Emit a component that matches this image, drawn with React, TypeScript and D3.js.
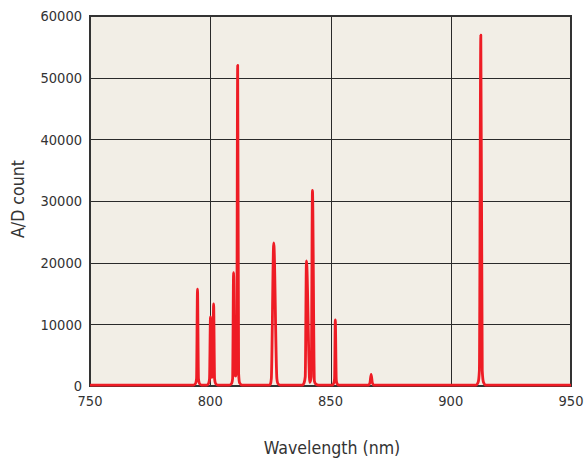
import React from "react";
import * as d3 from "d3";

const wavelengths = [
  750, 793.0, 793.9, 794.3, 794.7, 795.1, 795.5, 796.4,
  798.5, 799.3, 799.7, 800.1, 800.6, 801.0, 801.4, 801.8, 802.2, 803.1,
  808.0, 808.9, 809.3, 809.7, 810.2, 810.7, 811.0, 811.4, 811.8, 812.2, 813.2,
  824.6, 825.0, 825.4, 826.4, 827.7, 828.1, 829.0,
  838.3, 839.0, 839.5, 840.0, 841.4, 842.0, 842.5, 843.3, 843.9, 845.0,
  850.8, 851.4, 851.7, 852.0, 852.4, 852.7, 853.4,
  865.8, 866.4, 866.9, 867.4, 868.0,
  910.5, 911.4, 911.9, 912.5, 913.1, 913.6, 914.5,
  950,
];

const counts = [
  150, 150, 400, 1200, 15700, 1200, 400, 150,
  150, 400, 1200, 11200, 1400, 1600, 13300, 1200, 400, 150,
  150, 400, 1200, 18400, 1800, 1600, 3000, 52000, 2000, 500, 150,
  150, 300, 1200, 23200, 1200, 400, 150,
  150, 500, 1500, 20300, 600, 1500, 31700, 800, 300, 150,
  150, 500, 1200, 10700, 1000, 400, 150,
  150, 500, 1900, 500, 150,
  150, 600, 2500, 56900, 2500, 600, 150,
  150,
];

const xTicks = [750, 800, 850, 900, 950];
const yTicks = [0, 10000, 20000, 30000, 40000, 50000, 60000];
const xTitle = "Wavelength (nm)";
const yTitle = "A/D count";

const W = 584;
const H = 460;
const M = { left: 90, top: 16, right: 571, bottom: 386 };
const FONT = "'DejaVu Sans Condensed', 'DejaVu Sans', sans-serif";
const TEXT = "#333333";

export default function App() {
  const x = d3.scaleLinear().domain([750, 950]).range([M.left, M.right]);
  const y = d3.scaleLinear().domain([0, 60000]).range([M.bottom, M.top]);
  const pts: [number, number][] = wavelengths.map((w, i) => [w, counts[i]]);
  const line = d3
    .line<[number, number]>()
    .x((d) => x(d[0]))
    .y((d) => y(d[1]))
    .curve(d3.curveMonotoneX);

  return (
    <svg
      width={W}
      height={H}
      style={{ position: "absolute", left: 0, top: 0, background: "#ffffff" }}
    >
      <rect
        x={M.left}
        y={M.top}
        width={M.right - M.left}
        height={M.bottom - M.top}
        fill="#f2eee6"
      />
      {yTicks.slice(1, -1).map((t) => (
        <line
          key={"gy" + t}
          x1={M.left}
          x2={M.right}
          y1={Math.round(y(t)) + 0.5}
          y2={Math.round(y(t)) + 0.5}
          stroke="#2a2a2a"
          strokeWidth={1}
        />
      ))}
      {xTicks.slice(1, -1).map((t) => (
        <line
          key={"gx" + t}
          x1={Math.round(x(t)) + 0.5}
          x2={Math.round(x(t)) + 0.5}
          y1={M.top}
          y2={M.bottom}
          stroke="#2a2a2a"
          strokeWidth={1}
        />
      ))}
      <rect
        x={M.left}
        y={M.top}
        width={M.right - M.left}
        height={M.bottom - M.top}
        fill="none"
        stroke="#333333"
        strokeWidth={2}
      />
      <path
        d={line(pts) || ""}
        fill="none"
        stroke="#ee1c25"
        strokeWidth={2.8}
        strokeLinejoin="round"
      />
      {yTicks.map((t) => (
        <text
          key={"ty" + t}
          x={82}
          y={y(t)}
          dy="0.36em"
          textAnchor="end"
          fontFamily={FONT}
          fontSize={14.5}
          fill={TEXT}
        >
          {t}
        </text>
      ))}
      {xTicks.map((t) => (
        <text
          key={"tx" + t}
          x={x(t)}
          y={406}
          textAnchor="middle"
          fontFamily={FONT}
          fontSize={14.5}
          fill={TEXT}
        >
          {t}
        </text>
      ))}
      <text
        x={332}
        y={454}
        textAnchor="middle"
        fontFamily={FONT}
        fontSize={17.6}
        fill={TEXT}
      >
        {xTitle}
      </text>
      <text
        transform={`translate(24,${199}) rotate(-90)`}
        textAnchor="middle"
        fontFamily={FONT}
        fontSize={17.6}
        fill={TEXT}
      >
        {yTitle}
      </text>
    </svg>
  );
}
